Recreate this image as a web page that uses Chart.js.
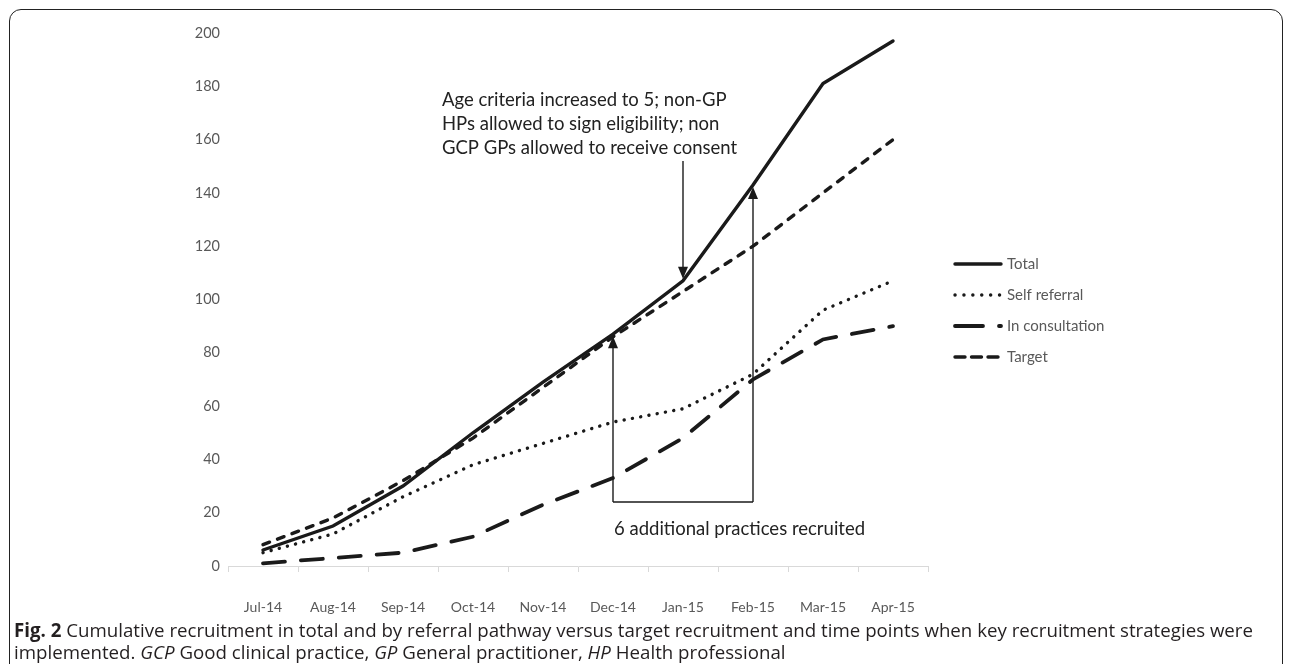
<!DOCTYPE html>
<html>
<head>
<meta charset="utf-8">
<script src="https://cdn.jsdelivr.net/npm/chart.js@4.4.1/dist/chart.umd.min.js"></script>
<style>
  html, body { margin: 0; padding: 0; background: #fff; }
  body { width: 1290px; height: 664px; position: relative; overflow: hidden; }
  #frame { position: absolute; left: 9px; top: 9px; width: 1274px; height: 700px;
           border: 1.5px solid #222; border-radius: 12px; box-sizing: border-box; }
  #wrap { position: absolute; left: 0; top: 0; width: 1290px; height: 620px; }
  #caption { position: absolute; left: 14px; top: 619px; width: 1262px;
             font-family: "Open Sans", sans-serif; font-size: 18.7px; line-height: 22px; color: #231f20; }
  #caption b { font-weight: 700; }
</style>
</head>
<body>
<div id="frame"></div>
<div id="wrap"><canvas id="chart"></canvas></div>
<div id="caption"><b>Fig. 2</b> Cumulative recruitment in total and by referral pathway versus target recruitment and time points when key recruitment strategies were implemented. <i>GCP</i> Good clinical practice, <i>GP</i> General practitioner, <i>HP</i> Health professional</div>
<script>
const months = ['Jul-14', 'Aug-14', 'Sep-14', 'Oct-14', 'Nov-14', 'Dec-14', 'Jan-15', 'Feb-15', 'Mar-15', 'Apr-15'];
const total = [6, 15, 30, 50, 69, 87, 107, 143, 181, 197];
const selfReferral = [5, 12, 26, 38, 46, 54, 59, 72, 96, 107];
const inConsultation = [1, 3, 5, 11, 23, 33, 48, 70, 85, 90];
const target = [8, 18, 32, 48, 67, 86, 103, 120, 140, 160];

const noteLines = ['Age criteria increased to 5; non-GP', 'HPs allowed to sign eligibility; non', 'GCP GPs allowed to receive consent'];
const noteBottom = '6 additional practices recruited';

const ink = '#1a1a1a';
const grey = '#595959';

function arrowV(ctx, x, yFrom, yTo) {
    const dir = yTo > yFrom ? 1 : -1;
    ctx.beginPath();
    ctx.moveTo(x, yFrom);
    ctx.lineTo(x, yTo - dir * 10);
    ctx.stroke();
    ctx.beginPath();
    ctx.moveTo(x, yTo);
    ctx.lineTo(x - 5, yTo - dir * 12);
    ctx.lineTo(x + 5, yTo - dir * 12);
    ctx.closePath();
    ctx.fill();
}

const notes = {
    id: 'notes',
    afterDatasetsDraw(chart) {
        const { ctx, scales: { x, y } } = chart;
        ctx.save();
        ctx.strokeStyle = ink;
        ctx.fillStyle = ink;
        ctx.lineWidth = 1.4;

        // strategy change at Jan-15
        const xJan = x.getPixelForValue(6);
        arrowV(ctx, xJan, y.getPixelForValue(152), y.getPixelForValue(total[6]) - 2);

        // bracket for extra practices, Dec-14 to Feb-15
        const xDec = x.getPixelForValue(5);
        const xFeb = x.getPixelForValue(7);
        const yBase = y.getPixelForValue(24);
        ctx.beginPath();
        ctx.moveTo(xDec, yBase);
        ctx.lineTo(xFeb, yBase);
        ctx.stroke();
        arrowV(ctx, xDec, yBase, y.getPixelForValue(total[5]) + 2);
        arrowV(ctx, xFeb, yBase, y.getPixelForValue(total[7]) + 2);

        ctx.font = '18.5px Lato';
        ctx.textBaseline = 'middle';
        ctx.fillStyle = '#222';
        ctx.fillText(noteBottom, xDec + 1, y.getPixelForValue(14));
        [175, 166, 157].forEach((v, i) => {
            ctx.fillText(noteLines[i], xJan - 241, y.getPixelForValue(v));
        });
        ctx.restore();
    }
};

const sideLegend = {
    id: 'sideLegend',
    afterDraw(chart) {
        const ctx = chart.ctx;
        const rows = [264, 295, 326, 357];
        ctx.save();
        chart.data.datasets.forEach((ds, i) => {
            const yy = rows[i];
            ctx.strokeStyle = ds.borderColor;
            ctx.lineWidth = ds.borderWidth;
            ctx.lineCap = ds.borderCapStyle || 'butt';
            ctx.setLineDash(ds.legendDash || ds.borderDash || []);
            ctx.beginPath();
            ctx.moveTo(955, yy);
            ctx.lineTo(1001, yy);
            ctx.stroke();
            ctx.setLineDash([]);
            ctx.fillStyle = grey;
            ctx.font = '15px Lato';
            ctx.textBaseline = 'middle';
            ctx.fillText(ds.label, 1007, yy);
        });
        ctx.restore();
    }
};

new Chart(document.getElementById('chart'), {
    type: 'line',
    data: {
        labels: months,
        datasets: [
            { label: 'Total', data: total, borderColor: ink, borderWidth: 3.4, borderCapStyle: 'round' },
            { label: 'Self referral', data: selfReferral, borderColor: ink, borderWidth: 3.4,
              borderDash: [0.1, 8.3], borderCapStyle: 'round', legendDash: [0.1, 8.8] },
            { label: 'In consultation', data: inConsultation, borderColor: ink, borderWidth: 3.8,
              borderDash: [22, 16], borderCapStyle: 'round', legendDash: [28, 16] },
            { label: 'Target', data: target, borderColor: ink, borderWidth: 3.4,
              borderDash: [7, 8.5], borderCapStyle: 'round', legendDash: [10, 6.5] }
        ]
    },
    options: {
        responsive: true,
        maintainAspectRatio: false,
        animation: false,
        elements: { point: { radius: 0 }, line: { tension: 0 } },
        layout: { padding: { left: 0, right: 362, top: 33, bottom: 0 } },
        plugins: { legend: { display: false }, tooltip: { enabled: false } },
        scales: {
            x: {
                offset: true,
                afterFit: s => { s.height = 54; },
                grid: { display: true, drawOnChartArea: false, tickLength: 6, color: '#d9d9d9', offset: true },
                border: { display: true, color: '#d9d9d9' },
                ticks: { color: grey, font: { family: 'Lato', size: 14 }, padding: 27, maxRotation: 0 }
            },
            y: {
                min: 0,
                max: 200,
                afterFit: s => { s.width = 228; },
                grid: { display: false, drawTicks: false },
                border: { display: false },
                ticks: { stepSize: 20, color: grey, font: { family: 'Lato', size: 14.5 }, padding: 8 }
            }
        }
    },
    plugins: [notes, sideLegend]
});
</script>
</body>
</html>
